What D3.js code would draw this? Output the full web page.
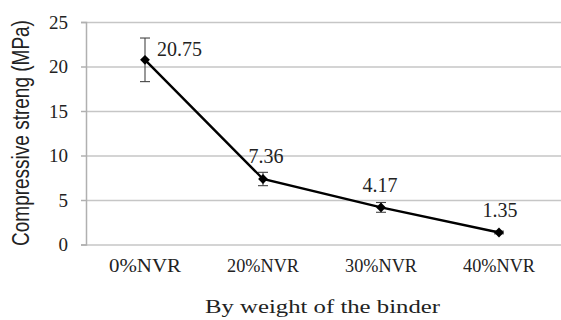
<!DOCTYPE html>
<html>
<head>
<meta charset="utf-8">
<script src="https://d3js.org/d3.v7.min.js"></script>
<style>
  body { margin: 0; background: #fff; }
  .serif { font-family: "Liberation Serif", "DejaVu Serif", serif; fill: #222; }
  .grid line { stroke: #c6c6c6; stroke-width: 1.5; }
  .grid path { display: none; }
</style>
</head>
<body>
<svg width="561" height="320"></svg>
<script>
const categories = ['0%NVR', '20%NVR', '30%NVR', '40%NVR'];
const values = [20.75, 7.36, 4.17, 1.35];
const errors = [2.45, 0.75, 0.55, 0.15];
const labels = ['20.75', '7.36', '4.17', '1.35'];
const yTicks = [0, 5, 10, 15, 20, 25];

const svg = d3.select('svg');
const plotLeft = 86, plotRight = 558, plotTop = 22, plotBottom = 244.5;

const x = d3.scaleBand().domain(categories).range([plotLeft, plotRight]);
const y = d3.scaleLinear().domain([0, 25]).range([plotBottom, plotTop]);

// horizontal grid
svg.append('g')
  .attr('class', 'grid')
  .attr('transform', `translate(${plotLeft},0)`)
  .call(d3.axisLeft(y).tickValues(yTicks).tickSize(-(561 - plotLeft)).tickFormat(''));

// y axis
const yAxis = svg.append('g')
  .attr('transform', `translate(${plotLeft},0)`)
  .call(d3.axisLeft(y).tickValues(yTicks).tickSize(5).tickPadding(13));
yAxis.select('.domain').attr('stroke', '#b0b0b0').attr('stroke-width', 1.5);
yAxis.selectAll('.tick line').attr('stroke', '#b0b0b0').attr('stroke-width', 1.5);
yAxis.selectAll('.tick text')
  .attr('class', 'serif')
  .style('font-family', '"Liberation Serif", serif')
  .style('font-size', '19px')
  .attr('fill', '#222');

// x labels
const xAxis = svg.append('g')
  .attr('transform', `translate(0,${plotBottom})`)
  .call(d3.axisBottom(x).tickSize(0).tickPadding(15));
xAxis.select('.domain').remove();
xAxis.selectAll('.tick text')
  .style('font-family', '"Liberation Serif", serif')
  .style('font-size', '18px')
  .attr('textLength', 72)
  .attr('lengthAdjust', 'spacingAndGlyphs')
  .attr('fill', '#222');

const cx = d => x(d) + x.bandwidth() / 2;

// error bars
const eb = svg.append('g').attr('stroke', '#444').attr('stroke-width', 1.1);
categories.forEach((c, i) => {
  const hi = y(values[i] + errors[i]), lo = y(values[i] - errors[i]);
  eb.append('line').attr('x1', cx(c)).attr('x2', cx(c)).attr('y1', hi).attr('y2', lo);
  eb.append('line').attr('x1', cx(c) - 5).attr('x2', cx(c) + 5).attr('y1', hi).attr('y2', hi);
  eb.append('line').attr('x1', cx(c) - 5).attr('x2', cx(c) + 5).attr('y1', lo).attr('y2', lo);
});

// line
svg.append('path')
  .datum(categories.map((c, i) => [cx(c), y(values[i])]))
  .attr('fill', 'none')
  .attr('stroke', '#000')
  .attr('stroke-width', 2.4)
  .attr('d', d3.line());

// markers
svg.selectAll('.pt')
  .data(categories)
  .join('path')
  .attr('transform', (c, i) => `translate(${cx(c)},${y(values[i])}) rotate(45)`)
  .attr('d', d3.symbol(d3.symbolSquare, 48))
  .attr('fill', '#000');

// value labels
const labelOffsets = [[12, -4, 'start'], [3, -16, 'middle'], [-1, -15, 'middle'], [1, -15, 'middle']];
svg.selectAll('.vl')
  .data(categories)
  .join('text')
  .style('font-family', '"Liberation Serif", serif')
  .attr('fill', '#222')
  .attr('x', (c, i) => cx(c) + labelOffsets[i][0])
  .attr('y', (c, i) => y(values[i]) + labelOffsets[i][1])
  .attr('text-anchor', (c, i) => labelOffsets[i][2])
  .style('font-size', '20px')
  .text((c, i) => labels[i]);

// axis titles
svg.append('text')
  .attr('transform', `translate(29,133) rotate(-90) scale(1,1.25)`)
  .attr('text-anchor', 'middle')
  .style('font-family', '"Liberation Sans", Arial, sans-serif')
  .style('font-size', '19px')
  .attr('fill', '#222')
  .text('Compressive streng (MPa)');

svg.append('text')
  .attr('x', 322.5)
  .attr('y', 313)
  .attr('text-anchor', 'middle')
  .style('font-family', '"Liberation Serif", serif')
  .style('font-size', '19px')
  .attr('textLength', 235)
  .attr('lengthAdjust', 'spacingAndGlyphs')
  .attr('fill', '#222')
  .text('By weight of the binder');
</script>
</body>
</html>
